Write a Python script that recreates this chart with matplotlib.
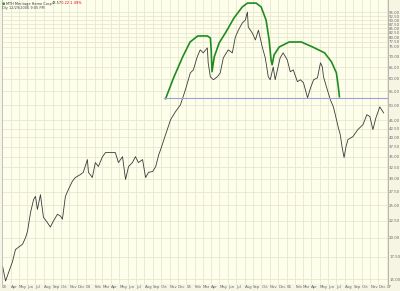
import matplotlib.pyplot as plt
import numpy as np
import pandas as pd

# price readings (approximate)
dates = ['2003-03-03', '2003-03-14', '2003-03-25', '2003-04-08', '2003-04-19', '2003-04-30',
         '2003-05-15', '2003-05-26', '2003-06-02', '2003-06-13', '2003-06-24', '2003-07-01',
         '2003-07-08', '2003-07-19', '2003-07-30', '2003-08-13', '2003-08-24', '2003-09-04',
         '2003-09-19', '2003-09-30', '2003-10-07', '2003-10-18', '2003-10-29', '2003-11-12',
         '2003-11-23', '2003-12-11', '2003-12-22', '2004-01-06', '2004-01-10', '2004-01-24',
         '2004-02-04', '2004-02-15', '2004-03-01', '2004-03-12', '2004-03-30', '2004-04-17',
         '2004-04-28', '2004-05-13', '2004-05-24', '2004-06-04', '2004-06-18', '2004-06-29',
         '2004-07-10', '2004-07-25', '2004-08-05', '2004-08-16', '2004-08-31', '2004-09-11',
         '2004-09-22', '2004-09-29', '2004-10-17', '2004-11-04', '2004-11-22', '2004-12-10',
         '2004-12-28', '2005-01-15', '2005-01-26', '2005-02-09', '2005-02-20', '2005-03-03',
         '2005-03-18', '2005-03-21', '2005-03-29', '2005-04-09', '2005-04-23', '2005-05-04',
         '2005-05-15', '2005-06-02', '2005-06-17', '2005-06-28', '2005-07-09', '2005-07-23',
         '2005-08-03', '2005-08-11', '2005-08-14', '2005-08-29', '2005-09-09', '2005-09-20',
         '2005-10-04', '2005-10-15', '2005-10-26', '2005-11-02', '2005-11-13', '2005-11-20',
         '2005-12-08', '2005-12-19', '2006-01-03', '2006-01-14', '2006-01-25', '2006-02-09',
         '2006-02-20', '2006-03-03', '2006-03-18', '2006-03-29', '2006-04-09', '2006-04-23',
         '2006-05-04', '2006-05-11', '2006-05-15', '2006-05-29', '2006-06-09', '2006-06-20',
         '2006-06-27', '2006-07-08', '2006-07-15', '2006-07-22', '2006-07-29', '2006-08-05',
         '2006-08-12', '2006-08-30', '2006-09-17', '2006-10-06', '2006-10-20', '2006-10-31',
         '2006-11-11', '2006-11-22', '2006-12-06', '2006-12-13', '2006-12-20']
prices = [16.4, 14.8, 15.7, 16.9, 18.4, 18.7, 19.1, 20.0, 20.9, 23.8, 26.0, 26.6,
          24.3, 26.9, 23.0, 22.2, 21.5, 22.4, 23.5, 23.2, 22.7, 26.6, 27.9, 29.5,
          30.3, 30.9, 31.4, 34.3, 31.4, 30.3, 33.6, 32.7, 35.0, 36.0, 36.0, 36.0,
          33.6, 35.0, 29.9, 32.7, 33.6, 35.0, 33.6, 34.3, 30.3, 31.4, 31.6, 32.7,
          35.5, 36.8, 40.8, 45.2, 47.8, 50.1, 55.6, 62.5, 63.8, 69.8, 73.3, 71.8,
          74.3, 67.0, 60.8, 59.6, 60.8, 62.5, 69.3, 73.3, 71.8, 80.1, 84.0, 88.2,
          90.0, 95.2, 85.8, 82.3, 78.5, 84.0, 74.8, 69.3, 60.8, 59.6, 65.1, 59.6,
          69.3, 71.8, 68.4, 63.0, 63.8, 58.8, 59.6, 58.4, 52.6, 56.4, 59.6, 60.4,
          67.0, 65.1, 60.8, 55.6, 51.9, 49.4, 46.8, 42.8, 40.8, 37.3, 34.8, 37.5,
          39.4, 40.2, 42.2, 43.7, 46.8, 46.2, 42.2, 45.8, 49.4, 48.4, 47.4]

# hand drawn head and shoulders
hs_dates = ['2004-10-17', '2004-11-15', '2004-12-18', '2005-01-14', '2005-02-11',
            '2005-03-18', '2005-03-29', '2005-04-01', '2005-04-04', '2005-04-12',
            '2005-04-30', '2005-05-25', '2005-06-23', '2005-07-23', '2005-08-11',
            '2005-09-12', '2005-09-30', '2005-10-18', '2005-10-29', '2005-11-05',
            '2005-11-09', '2005-11-16', '2005-12-05', '2006-01-10', '2006-02-23',
            '2006-04-05', '2006-05-19', '2006-06-13', '2006-07-01', '2006-07-08',
            '2006-07-12']
hs_prices = [52.3, 60.4, 69.8, 77.4, 80.7, 80.7, 79.6, 73.3, 63.0, 69.8,
             76.9, 83.0, 91.4, 98.6, 101.3, 101.3, 98.6, 90.0, 78.5, 68.4,
             66.1, 70.8, 74.8, 77.4, 77.4, 74.8, 71.8, 67.5, 62.5, 56.8,
             53.0]
neckline = 52.6
neck_start = '2004-10-10'

yticks = [15, 17.5, 20, 22.5, 25, 27.5, 30, 32.5, 35, 37.5, 40, 42.5, 45, 50,
          55, 60, 65, 70, 75, 77.5, 80, 82.5, 85, 87.5, 90, 92.5, 95]
months = pd.date_range('2003-03-01', '2007-01-01', freq='MS')

bg = '#fefeec'
fig = plt.figure(figsize=(4, 2.91), dpi=100, facecolor='#f6f5e4')
ax = fig.add_axes([2 / 400, 7 / 291, 386 / 400, 284 / 291])
ax.set_facecolor(bg)

d = pd.to_datetime(dates)
ax.plot(d, prices, color='#3a3a3a', lw=0.6)
ax.plot(pd.to_datetime(hs_dates), hs_prices, color='#1e8c1e', lw=1.2)
ax.plot([pd.Timestamp(neck_start), pd.Timestamp('2007-01-05')], [neckline, neckline],
        color='#a0a0d8', lw=0.8)

ax.set_yscale('log')
ax.set_ylim(14.5, 103.5)
ax.set_xlim(pd.Timestamp('2003-03-01'), pd.Timestamp('2007-01-05'))
ax.yaxis.tick_right()
ax.set_yticks(yticks)
ax.set_yticklabels([f'{v:.2f}' for v in yticks])
ax.yaxis.set_minor_locator(plt.NullLocator())
ax.set_xticks(months)
ax.set_xticklabels([m.strftime('%y') if m.month == 1 or i == 0 else m.strftime('%b')
                    for i, m in enumerate(months)], ha='left')
ax.tick_params(length=0, labelsize=2.8, labelcolor='#666666', pad=0.8)
ax.grid(color='#e4e4c8', lw=0.5)
for s in ['top', 'bottom']:
    ax.spines[s].set_visible(False)
ax.spines['right'].set_color('#aaaaaa')
ax.spines['left'].set_color('#bbbbbb')
ax.spines['right'].set_linewidth(0.6)
ax.spines['left'].set_linewidth(0.6)

# header text, placed in figure pixels
fig.text(2 / 400, 1 - 1 / 291, '\u25aa', fontsize=3.5, va='top', color='#2a9a2a')
fig.text(6 / 400, 1 - 1.5 / 291, 'MTH Meritage Home Corp', fontsize=2.5, va='top',
         color='#333333')
fig.text(52 / 400, 1 - 1.5 / 291, '43.57', fontsize=2.5, va='top', color='#333333')
fig.text(61 / 400, 1 - 1.5 / 291, '-0.22', fontsize=2.5, va='top', color='#dd0000')
fig.text(70 / 400, 1 - 1.5 / 291, '-1.49%', fontsize=2.5, va='top', color='#dd0000')
fig.text(2 / 400, 1 - 6.5 / 291, 'Dly 12/29/2006 9:05 PM', fontsize=2.5, va='top',
         color='#444444')

fig.savefig('out.png', dpi=100, facecolor=fig.get_facecolor())
